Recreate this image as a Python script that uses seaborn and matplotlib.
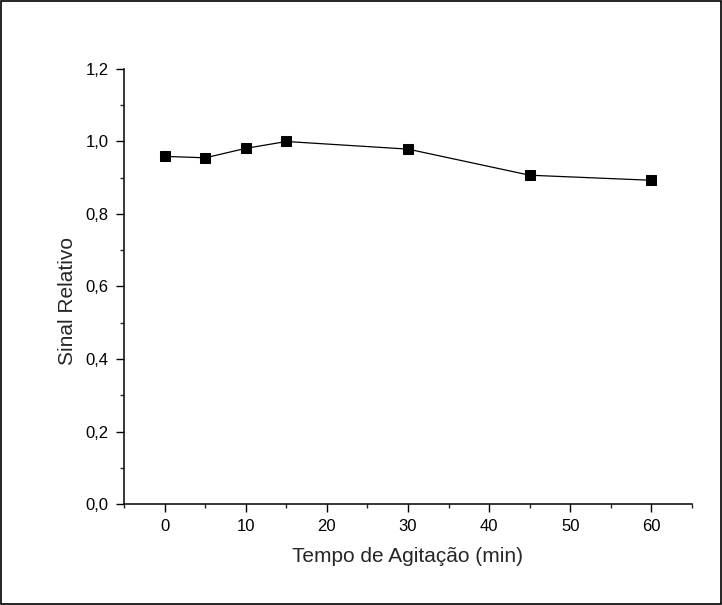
import matplotlib
matplotlib.use("Agg")
import matplotlib.pyplot as plt
import seaborn as sns
import pandas as pd
from matplotlib.ticker import MultipleLocator, FuncFormatter
from matplotlib.patches import Rectangle

tempo = [0, 5, 10, 15, 30, 45, 60]
sinal = [0.959, 0.955, 0.981, 1.000, 0.979, 0.907, 0.893]

df = pd.DataFrame({"tempo": tempo, "sinal": sinal})

sns.set_style("ticks")
plt.rcParams['font.family'] = ['Liberation Sans', 'DejaVu Sans']

fig = plt.figure(figsize=(7.22, 6.05), dpi=100)
ax = fig.add_axes([124/722, 101/605, (692-124)/722, (504-69)/605])

sns.lineplot(data=df, x="tempo", y="sinal", ax=ax, color="black", linewidth=0.9,
             marker="s", markersize=7, markeredgecolor="black", markerfacecolor="black")

ax.set_xlim(-5, 65)
ax.set_ylim(0, 1.2)
ax.xaxis.set_major_locator(MultipleLocator(10))
ax.xaxis.set_minor_locator(MultipleLocator(5))
ax.yaxis.set_major_locator(MultipleLocator(0.2))
ax.yaxis.set_minor_locator(MultipleLocator(0.1))
ax.yaxis.set_major_formatter(FuncFormatter(lambda v, p: f"{v:.1f}".replace(".", ",")))
ax.xaxis.set_major_formatter(FuncFormatter(lambda v, p: f"{v:.0f}"))

for s in ["top", "right"]:
    ax.spines[s].set_visible(False)
for s in ["left", "bottom"]:
    ax.spines[s].set_linewidth(1.1)
    ax.spines[s].set_color("black")

ax.tick_params(axis="both", which="major", direction="out", length=6, width=1, labelsize=12, colors="black", pad=5)
ax.tick_params(axis="both", which="minor", direction="out", length=3, width=1)

ax.set_xlabel("Tempo de Agitação (min)", fontsize=15, labelpad=9)
ax.set_ylabel("Sinal Relativo", fontsize=15, labelpad=6)
ax.yaxis.label.set_y(0.467)

fig.patches.append(Rectangle((0.0015, 0.0015), 0.997, 0.997, transform=fig.transFigure,
                             fill=False, edgecolor="black", linewidth=1.2))

fig.savefig("out.png", dpi=100)
